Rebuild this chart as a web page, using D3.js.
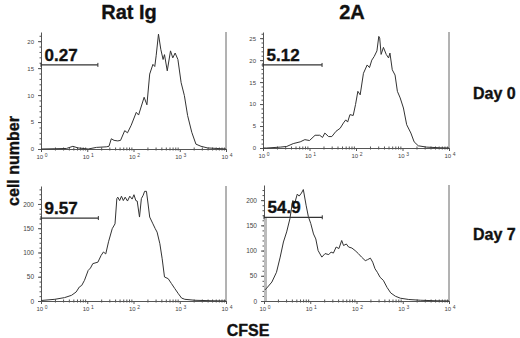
<!DOCTYPE html>
<html>
<head>
<meta charset="utf-8">
<script src="https://cdn.jsdelivr.net/npm/d3@7"></script>
<style>
body { margin: 0; background: #fff; }
svg { display: block; font-family: "Liberation Sans", Arial, sans-serif; }
.heavy { font-weight: bold; fill: #111; stroke: #111; stroke-width: 0.35px; }
</style>
</head>
<body>
<svg id="chart" width="520" height="338"></svg>
<script>
//////////////////////////////////////////////
// Data //////////////////////////////////////
//////////////////////////////////////////////
var columnTitles = ["Rat Ig", "2A"];
var rowLabels = ["Day 0", "Day 7"];
var gateLabels = ["0.27", "5.12", "9.57", "54.9"];
var gateEndLog = [1.23, 1.27, 1.24, 1.26];     // right end of the gate, log10 CFSE
var gateLevel = [15.6, 18.9, 171, 166];        // height of the gate bar, cell number
var decades = [0, 1, 2, 3, 4];
var yTicksDay0RatIg = [0, 5, 10, 15, 20];
var yTicksDay0TwoA = [0, 5, 10, 15, 20, 25];
var yTicksDay7 = [0, 50, 100, 150, 200];

// histograms: log10(CFSE) and cell number
var ratIgDay0Log = [0, 0.3, 0.55, 0.69, 0.8, 1.02, 1.2, 1.41, 1.47, 1.52, 1.58, 1.66, 1.72, 1.81, 1.87, 1.95,
    2.06, 2.11, 2.23, 2.29, 2.35, 2.42, 2.46, 2.49, 2.54, 2.59, 2.64, 2.67, 2.73, 2.80, 2.85, 2.90, 2.96,
    3.03, 3.10, 3.17, 3.26, 3.35, 3.46, 3.60, 3.8, 4.0];
var ratIgDay0Count = [0, 0.05, 0.1, 0.5, 0.2, 0, 0.3, 0.4, 0.5, 1.9, 1.6, 1.5, 1.6, 3.4, 3.0, 4.4,
    6.8, 6.3, 9.6, 8.2, 13.9, 15.7, 15.3, 17.3, 21.3, 18.5, 16.6, 17.5, 14.5, 18.2, 16.9, 17.8, 16.6,
    12.3, 9.9, 6.2, 3.1, 0.9, 0.5, 0.2, 0.1, 0];

var twoADay0Log = [0, 0.08, 0.37, 0.51, 0.65, 0.80, 0.90, 1.0, 1.12, 1.22, 1.28, 1.33, 1.41, 1.48, 1.57,
    1.66, 1.73, 1.78, 1.82, 1.87, 1.94, 1.99, 2.04, 2.09, 2.16, 2.24, 2.29, 2.34, 2.39, 2.45, 2.49, 2.51,
    2.54, 2.59, 2.65, 2.70, 2.73, 2.78, 2.84, 2.89, 2.95, 3.02, 3.09, 3.18, 3.25, 3.34, 3.52, 3.8, 4.0];
var twoADay0Count = [0, 0, 0.2, 0.35, 1.0, 1.4, 1.9, 1.7, 2.9, 2.9, 2.4, 3.4, 2.6, 2.6, 3.8,
    4.5, 5.7, 6.4, 5.9, 7.6, 7.4, 9.9, 12.9, 12.1, 17.0, 18.9, 18.3, 20.0, 20.8, 22.1, 25.4, 25.0,
    21.3, 22.9, 21.3, 20.5, 21.6, 17.8, 16.6, 12.9, 11.4, 9.1, 5.3, 3.4, 1.4, 0.5, 0.2, 0.05, 0];

var ratIgDay7Log = [0, 0.30, 0.51, 0.66, 0.76, 0.83, 0.88, 0.94, 1.02, 1.07, 1.12, 1.23, 1.30, 1.35, 1.40,
    1.46, 1.54, 1.60, 1.64, 1.66, 1.70, 1.74, 1.78, 1.82, 1.87, 1.92, 1.97, 2.01, 2.05, 2.08, 2.13, 2.17,
    2.21, 2.24, 2.28, 2.31, 2.35, 2.42, 2.47, 2.51, 2.57, 2.62, 2.67, 2.75, 2.82, 2.89, 2.97, 3.04, 3.11,
    3.33, 3.7, 4.0];
var ratIgDay7Count = [1, 3.5, 7, 11.7, 18.6, 29, 32, 42.6, 63, 68, 77, 80, 94, 101, 97,
    122, 149, 159, 211, 214, 207, 216, 207, 214, 206, 216, 210, 219, 207, 206, 173, 211,
    218, 226, 226, 204, 173, 159, 149, 142, 118, 87, 49.5, 46, 36, 26, 15, 6, 3.5,
    1.5, 0.5, 0];

var twoADay7Log = [0.02, 0.06, 0.17, 0.27, 0.35, 0.42, 0.49, 0.56, 0.62, 0.67, 0.72, 0.76, 0.81, 0.85, 0.91,
    0.96, 1.01, 1.07, 1.12, 1.17, 1.25, 1.32, 1.40, 1.45, 1.50, 1.56, 1.62, 1.68, 1.72, 1.78, 1.83, 1.90,
    1.97, 2.04, 2.11, 2.19, 2.24, 2.30, 2.35, 2.40, 2.45, 2.51, 2.58, 2.66, 2.74, 2.84, 2.95, 3.13, 3.38,
    3.7, 4.0];
var twoADay7Count = [22, 25.7, 37.6, 57, 87, 117, 137, 163, 199, 196, 212, 208, 214, 221, 190,
    167, 154, 133, 123, 100, 87, 94, 92, 97, 95, 107, 104, 120, 110, 113, 107, 105,
    100, 94, 87, 80, 82, 85, 77, 64, 57, 47, 41, 27, 16, 9.5, 5.5, 3, 1.5,
    0.5, 0];

//////////////////////////////////////////////
// Layout ////////////////////////////////////
//////////////////////////////////////////////
var panels = [
    {left: 41, right: 226, top: 32, bottom: 149, ymax: 21.7, yTicks: yTicksDay0RatIg, minorStep: 1,
     logs: ratIgDay0Log, counts: ratIgDay0Count, yFont: 6},
    {left: 263, right: 449, top: 32, bottom: 148, ymax: 26.4, yTicks: yTicksDay0TwoA, minorStep: 1,
     logs: twoADay0Log, counts: twoADay0Count, yFont: 6},
    {left: 41, right: 226, top: 186, bottom: 301, ymax: 237, yTicks: yTicksDay7, minorStep: 10,
     logs: ratIgDay7Log, counts: ratIgDay7Count, yFont: 6.5},
    {left: 264, right: 449, top: 185, bottom: 301, ymax: 230, yTicks: yTicksDay7, minorStep: 10,
     logs: twoADay7Log, counts: twoADay7Count, yFont: 6.5, band: true}
];

var svg = d3.select("#chart");
var axisColor = "#555";

// minor log ticks 2..9 in every decade
var minorX = [];
decades.slice(0, -1).forEach(function(d) {
    for (var k = 2; k < 10; k++) minorX.push(k * Math.pow(10, d));
});

panels.forEach(function(p, i) {
    var g = svg.append("g");
    var x = d3.scaleLog().domain([1, 1e4]).range([p.left, p.right]);
    var y = d3.scaleLinear().domain([0, p.ymax]).range([p.bottom, p.top]);

    // x axis
    var xa = g.append("g")
        .attr("transform", "translate(0," + p.bottom + ")")
        .call(d3.axisBottom(x)
            .tickValues(decades.map(function(d) { return Math.pow(10, d); }))
            .tickSizeInner(3).tickSizeOuter(0).tickFormat(""));
    var xm = g.append("g")
        .attr("transform", "translate(0," + (p.bottom - 1.5) + ")")
        .call(d3.axisBottom(x).tickValues(minorX).tickSizeInner(3).tickSizeOuter(0).tickFormat(""));
    xm.select(".domain").remove();

    decades.forEach(function(d) {
        var t = g.append("text")
            .attr("x", x(Math.pow(10, d)) + 1)
            .attr("y", p.bottom + 10)
            .attr("text-anchor", "middle")
            .attr("font-size", 6)
            .attr("fill", "#444");
        t.append("tspan").text("10");
        t.append("tspan").attr("dx", 1.5).attr("dy", -2).attr("font-size", 5).text(d);
    });

    // y axis
    var ya = g.append("g")
        .attr("transform", "translate(" + p.left + ",0)")
        .call(d3.axisLeft(y).tickValues(p.yTicks).tickSizeInner(3).tickSizeOuter(0).tickPadding(4));
    ya.selectAll("text").attr("font-size", p.yFont).attr("fill", "#444")
        .attr("font-family", "Liberation Sans, Arial, sans-serif");
    var ym = g.append("g")
        .attr("transform", "translate(" + p.left + ",0)")
        .call(d3.axisLeft(y).tickValues(d3.range(0, p.ymax, p.minorStep)).tickSizeInner(1.5).tickSizeOuter(0).tickFormat(""));
    ym.select(".domain").remove();

    [xa, xm, ya, ym].forEach(function(a) {
        a.selectAll("path, line").attr("stroke", axisColor);
    });

    // right frame edge
    g.append("line")
        .attr("x1", p.right).attr("x2", p.right)
        .attr("y1", p.top).attr("y2", p.bottom)
        .attr("stroke", "#666");

    // gate band on the left edge (2A day 7)
    if (p.band) {
        g.append("rect")
            .attr("x", p.left).attr("y", y(gateLevel[i]))
            .attr("width", 3).attr("height", p.bottom - y(gateLevel[i]))
            .attr("fill", "#bbb");
    }

    // histogram
    var pts = p.logs.map(function(v, j) { return [v, p.counts[j]]; });
    var line = d3.line()
        .x(function(d) { return x(Math.pow(10, d[0])); })
        .y(function(d) { return y(d[1]); });
    g.append("path")
        .datum(pts)
        .attr("d", line)
        .attr("fill", "none")
        .attr("stroke", "#333")
        .attr("stroke-width", 1);

    // gate marker
    var gx0 = x(1), gx1 = x(Math.pow(10, gateEndLog[i])), gy = y(gateLevel[i]);
    g.append("line").attr("x1", gx0).attr("x2", gx1).attr("y1", gy).attr("y2", gy)
        .attr("stroke", "#333").attr("stroke-width", 1.3);
    [gx0, gx1].forEach(function(cx) {
        g.append("line").attr("x1", cx).attr("x2", cx).attr("y1", gy - 2).attr("y2", gy + 2)
            .attr("stroke", "#333").attr("stroke-width", 1);
    });
    g.append("text")
        .attr("class", "heavy")
        .attr("x", gx0 + 3.5).attr("y", gy - 4)
        .attr("font-size", 17)
        .text(gateLabels[i]);
});

// column titles
var titleX = [129, 352];
columnTitles.forEach(function(t, i) {
    svg.append("text")
        .attr("class", "heavy")
        .attr("x", titleX[i]).attr("y", 19)
        .attr("text-anchor", "middle")
        .attr("font-size", 20)
        .text(t);
});

// row labels
var rowY = [99, 240];
rowLabels.forEach(function(t, i) {
    svg.append("text")
        .attr("class", "heavy")
        .attr("x", 473).attr("y", rowY[i])
        .attr("font-size", 16)
        .text(t);
});

// axis titles
svg.append("text")
    .attr("class", "heavy")
    .attr("transform", "translate(19,161) rotate(-90)")
    .attr("text-anchor", "middle")
    .attr("font-size", 16)
    .text("cell number");

svg.append("text")
    .attr("class", "heavy")
    .attr("x", 248).attr("y", 336)
    .attr("text-anchor", "middle")
    .attr("font-size", 16)
    .text("CFSE");
</script>
</body>
</html>
